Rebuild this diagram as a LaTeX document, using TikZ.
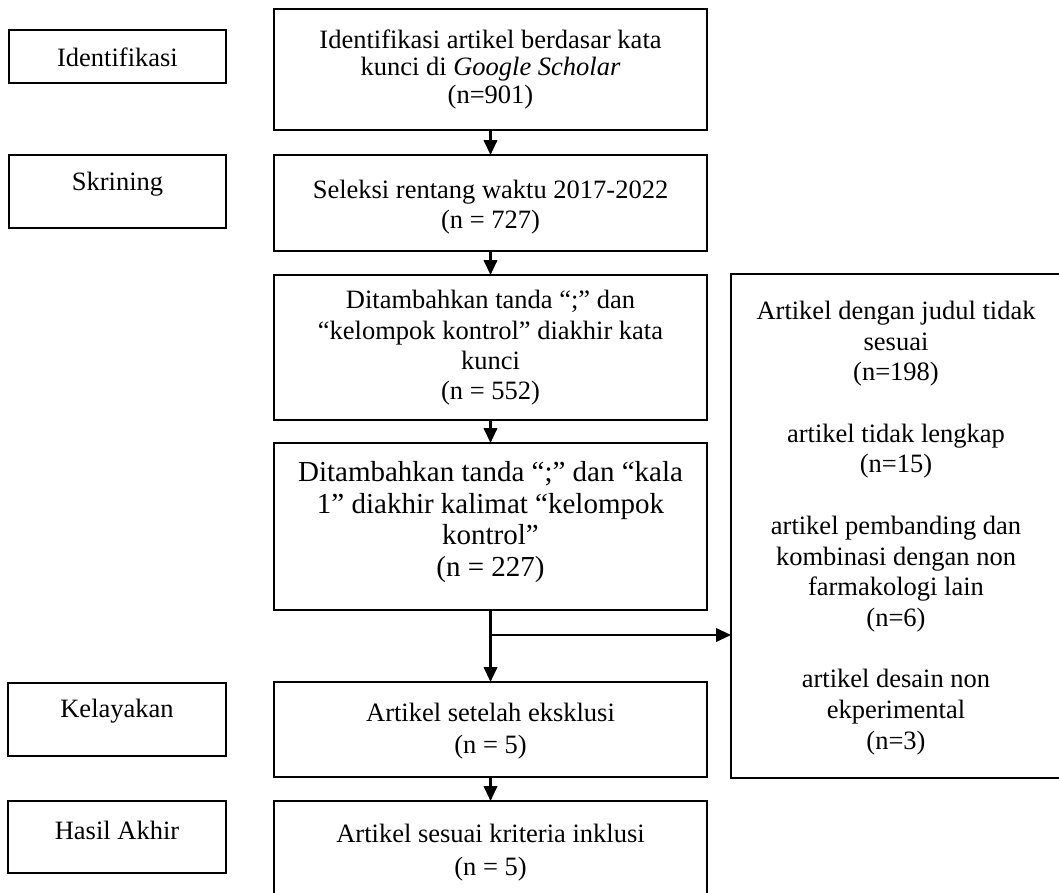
\documentclass[tikz,border=0pt]{standalone}
\usepackage{fontspec}
\setmainfont{Liberation Serif}
\usetikzlibrary{arrows.meta}
\tikzset{
  box/.style={draw, line width=2.4pt, inner sep=0pt, outer sep=0pt, anchor=north west},
  txt/.style={align=center, inner sep=0pt, font=\fontsize{26.5}{30.5}\selectfont},
  arr/.style={line width=2.4pt, -{Triangle[width=13.5pt,length=15pt]}}
}
\begin{document}
\begin{tikzpicture}[x=1pt,y=-1pt]
\useasboundingbox (0,0) rectangle (1059,892);
% left labels
\node[box, minimum width=217pt, minimum height=53pt] (l1) at (9,30) {};
\node[box, minimum width=217pt, minimum height=73pt] (l2) at (9,155) {};
\node[box, minimum width=218pt, minimum height=73pt] (l3) at (8,683) {};
\node[box, minimum width=218pt, minimum height=72pt] (l4) at (8,801) {};
\node[txt] (lt1) at (117.5,57) {Identifikasi};
\node[txt] (lt2) at (117.5,184) {Skrining};
\node[txt] (lt3) at (117,711) {Kelayakan};
\node[txt] (lt4) at (117,830) {Hasil Akhir};
% main column
\node[box, minimum width=433pt, minimum height=121pt] (b1) at (274,9) {};
\node[box, minimum width=433pt, minimum height=96pt] (b2) at (274,155) {};
\node[box, minimum width=433pt, minimum height=145pt] (b3) at (274,275) {};
\node[box, minimum width=433pt, minimum height=167pt] (b4) at (274,443) {};
\node[box, minimum width=433pt, minimum height=95pt] (b5) at (274,682) {};
\node[box, minimum width=433pt, minimum height=110pt] (b6) at (274,801) {};
\node[txt, font=\fontsize{26.5}{27.5}\selectfont] (t1) at (490.5,69) {Identifikasi artikel berdasar kata\\kunci di \textit{Google Scholar}\\(n=901)};
\node[txt, font=\fontsize{26.5}{30}\selectfont] (t2) at (490.5,207) {Seleksi rentang waktu 2017-2022\\(n = 727)};
\node[txt, font=\fontsize{26.5}{30.3}\selectfont] (t3) at (490.5,348) {Ditambahkan tanda “;” dan\\“kelompok kontrol” diakhir kata\\kunci\\(n = 552)};
\node[txt, font=\fontsize{29}{31.5}\selectfont] (t4) at (490.5,522) {Ditambahkan tanda “;” dan “kala\\1” diakhir kalimat “kelompok\\kontrol”\\(n = 227)};
\node[txt, font=\fontsize{26.5}{32}\selectfont] (t5) at (490.5,731) {Artikel setelah eksklusi\\(n = 5)};
\node[txt, font=\fontsize{26.5}{33}\selectfont] (t6) at (490.5,853) {Artikel sesuai kriteria inklusi\\(n = 5)};
% right box
\node[box, minimum width=334pt, minimum height=504pt] (r) at (731,274) {};
\node[txt, font=\fontsize{26.5}{30.7}\selectfont] (rt) at (896,528) {Artikel dengan judul tidak\\sesuai\\(n=198)\\[30.7pt]artikel tidak lengkap\\(n=15)\\[30.7pt]artikel pembanding dan\\kombinasi dengan non\\farmakologi lain\\(n=6)\\[30.7pt]artikel desain non\\ekperimental\\(n=3)};
% connectors
\draw[arr] (b1.south) -- (b2.north);
\draw[arr] (b2.south) -- (b3.north);
\draw[arr] (b3.south) -- (b4.north);
\draw[arr] (b4.south) -- (b5.north);
\draw[arr] (b5.south) -- (b6.north);
\coordinate (br) at (490.5,635);
\draw[arr] (br) -- (br -| r.west);
\end{tikzpicture}
\end{document}
